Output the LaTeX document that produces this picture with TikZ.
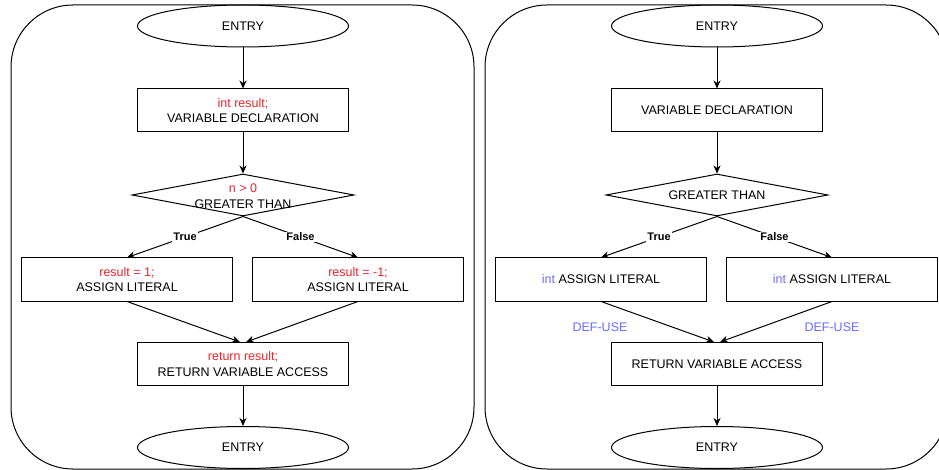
\documentclass[tikz,border=0pt]{standalone}
\usepackage{fontspec}
\setmainfont{Liberation Sans}
\usetikzlibrary{shapes.geometric,arrows.meta}
\definecolor{codered}{HTML}{E8242C}
\definecolor{defblue}{HTML}{6B6BFF}
\begin{document}
\begin{tikzpicture}[x=1pt,y=-1pt,
  font=\fontsize{12.5}{15.5}\selectfont,
  line width=1pt,
  panel/.style={draw, rectangle, rounded corners=62pt, minimum width=463pt, minimum height=464pt, inner sep=0pt},
  box/.style={draw, rectangle, minimum width=211pt, minimum height=43pt, align=center, inner sep=0pt},
  term/.style={draw, ellipse, minimum width=211pt, minimum height=42pt, inner sep=0pt},
  cond/.style={draw, diamond, minimum width=222pt, minimum height=42pt, inner sep=0pt},
  ctext/.style={align=center, inner sep=0pt},
  arr/.style={-{Stealth[length=8pt,width=7pt,inset=2.5pt]}},
  lbl/.style={fill=white, inner sep=1pt, font=\fontsize{11}{12}\selectfont\bfseries},
  defl/.style={text=defblue, inner sep=0pt}]
\useasboundingbox (0,0) rectangle (939,470);

% ---------- left panel ----------
\node[panel] (p1) at (242.5,237) {};
\node[term] (e1) at (243,26) {ENTRY};
\node[box] (b1) at (243,110.5) {\textcolor{codered}{int result;}\\VARIABLE DECLARATION};
\node[cond] (d1) at (243,195) {};
\node[ctext] (d1t) at (243,196) {\textcolor{codered}{n > 0}\\GREATER THAN};
\node[box] (a1) at (127,279.5) {\textcolor{codered}{result = 1;}\\ASSIGN LITERAL};
\node[box] (a2) at (358,279.5) {\textcolor{codered}{result = -1;}\\ASSIGN LITERAL};
\node[box] (r1) at (243,364) {\textcolor{codered}{return result;}\\RETURN VARIABLE ACCESS};
\node[term] (x1) at (243,447.5) {ENTRY};

\draw[arr] (e1) -- (b1);
\draw[arr] (b1) -- (d1);
\draw[arr] (d1.south) -- node[lbl] (t1) {True} (a1.north);
\draw[arr] (d1.south) -- node[lbl] (f1) {False} (a2.north);
\draw[arr] (a1.south) -- ([xshift=-3pt]r1.north);
\draw[arr] (a2.south) -- ([xshift=3pt]r1.north);
\draw[arr] (r1) -- (x1);

% ---------- right panel ----------
\node[panel] (p2) at (716.5,237) {};
\node[term] (e2) at (717,26) {ENTRY};
\node[box] (b2) at (717,110.5) {VARIABLE DECLARATION};
\node[cond] (d2) at (717,195) {};
\node[ctext] (d2t) at (717,195) {GREATER THAN};
\node[box] (a3) at (601,279.5) {\textcolor{defblue}{int} ASSIGN LITERAL};
\node[box] (a4) at (832,279.5) {\textcolor{defblue}{int} ASSIGN LITERAL};
\node[box] (r2) at (717,364) {RETURN VARIABLE ACCESS};
\node[term] (x2) at (717,447.5) {ENTRY};

\draw[arr] (e2) -- (b2);
\draw[arr] (b2) -- (d2);
\draw[arr] (d2.south) -- node[lbl] (t2) {True} (a3.north);
\draw[arr] (d2.south) -- node[lbl] (f2) {False} (a4.north);
\draw[arr] (a3.south) -- ([xshift=-3pt]r2.north);
\draw[arr] (a4.south) -- ([xshift=3pt]r2.north);
\draw[arr] (r2) -- (x2);

\node[defl] (du1) at (600,327) {DEF-USE};
\node[defl] (du2) at (832,327) {DEF-USE};
\end{tikzpicture}
\end{document}
